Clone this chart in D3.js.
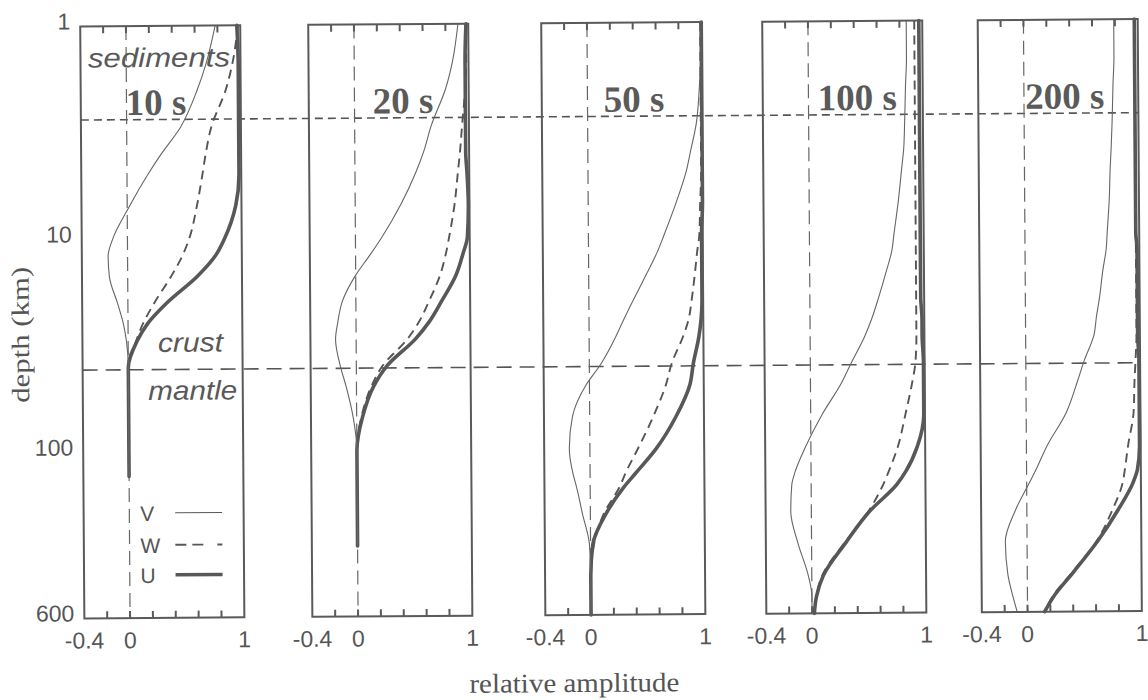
<!DOCTYPE html>
<html>
<head>
<meta charset="utf-8">
<script src="https://cdn.jsdelivr.net/npm/d3@7"></script>
<style>
  html, body { margin: 0; padding: 0; background: #ffffff; }
  svg { display: block; }
</style>
</head>
<body>
<svg id="chart" width="1148" height="700"></svg>
<script>
// ---------------- DATA ----------------
const periods = ["10 s", "20 s", "50 s", "100 s", "200 s"];
const depths = [1, 1.5, 2, 3, 4, 5, 7, 10, 12, 15, 20, 25, 30, 40, 50, 70, 100, 130, 150, 200, 280, 400, 500, 600];

// 10 s
const v10 = [0.78, 0.70, 0.62, 0.47, 0.30, 0.18, 0.02, -0.13, -0.17, -0.16, -0.09, -0.04, -0.015, 0, 0, 0, 0, 0, null, null, null, null, null, null];
const w10 = [0.98, 0.93, 0.87, 0.74, 0.69, 0.66, 0.61, 0.54, 0.48, 0.38, 0.23, 0.13, 0.07, 0, 0, 0, 0, 0, null, null, null, null, null, null];
const u10 = [0.97, 0.98, 0.98, 0.98, 0.98, 0.98, 0.95, 0.85, 0.77, 0.61, 0.34, 0.17, 0.08, 0, 0, 0, 0, 0, null, null, null, null, null, null];
// 20 s
const v20 = [0.91, 0.86, 0.80, 0.67, 0.60, 0.53, 0.40, 0.23, 0.13, 0.0, -0.12, -0.16, -0.18, -0.14, -0.09, -0.03, 0, 0, 0, 0, 0, null, null, null];
const w20 = [0.98, 0.98, 0.97, 0.94, 0.92, 0.90, 0.87, 0.82, 0.79, 0.74, 0.64, 0.55, 0.45, 0.23, 0.13, 0.04, 0, 0, 0, 0, 0, null, null, null];
const u20 = [0.98, 0.97, 0.97, 0.97, 0.97, 0.98, 0.99, 0.98, 0.94, 0.88, 0.75, 0.64, 0.52, 0.27, 0.15, 0.05, 0, 0, 0, 0, 0, null, null, null];
// 50 s
const v50 = [0.99, 0.99, 0.98, 0.95, 0.90, 0.86, 0.77, 0.66, 0.60, 0.51, 0.39, 0.30, 0.23, 0.10, -0.03, -0.15, -0.18, -0.15, -0.12, -0.07, -0.01, 0, 0, 0];
const w50 = [0.99, 0.99, 0.99, 0.99, 0.99, 0.99, 0.98, 0.97, 0.95, 0.93, 0.90, 0.87, 0.82, 0.72, 0.67, 0.56, 0.42, 0.31, 0.26, 0.12, 0.03, 0, 0, 0];
const u50 = [1.0, 1.0, 1.0, 1.0, 1.0, 1.0, 1.0, 0.99, 0.99, 0.99, 0.99, 0.98, 0.96, 0.91, 0.88, 0.76, 0.58, 0.40, 0.30, 0.14, 0.02, 0, 0, 0];
// 100 s
const v100 = [0.86, 0.86, 0.85, 0.84, 0.83, 0.81, 0.78, 0.74, 0.72, 0.67, 0.60, 0.54, 0.48, 0.36, 0.27, 0.10, -0.05, -0.14, -0.17, -0.18, -0.12, -0.03, 0, 0];
const w100 = [0.93, 0.93, 0.93, 0.93, 0.93, 0.93, 0.93, 0.93, 0.93, 0.93, 0.93, 0.93, 0.93, 0.92, 0.89, 0.83, 0.76, 0.68, 0.63, 0.50, 0.29, 0.09, 0.04, 0.02];
const u100 = [0.97, 0.97, 0.97, 0.97, 0.97, 0.97, 0.97, 0.97, 0.97, 0.97, 0.97, 0.98, 0.98, 0.99, 0.99, 0.99, 0.93, 0.83, 0.75, 0.51, 0.30, 0.10, 0.04, 0.02];
// 200 s
const v200 = [0.79, 0.79, 0.78, 0.77, 0.76, 0.75, 0.74, 0.72, 0.71, 0.68, 0.65, 0.62, 0.60, 0.51, 0.45, 0.35, 0.18, 0.08, 0.02, -0.10, -0.19, -0.17, -0.13, -0.09];
const w200 = [0.97, 0.97, 0.97, 0.97, 0.97, 0.97, 0.97, 0.97, 0.97, 0.97, 0.97, 0.97, 0.97, 0.96, 0.95, 0.94, 0.89, 0.86, 0.84, 0.75, 0.61, 0.38, 0.23, 0.15];
const u200 = [0.97, 0.97, 0.97, 0.97, 0.97, 0.97, 0.97, 0.97, 0.98, 0.98, 0.98, 0.98, 0.98, 0.99, 0.99, 0.99, 0.99, 0.97, 0.93, 0.80, 0.62, 0.39, 0.24, 0.15];

const seriesV = [v10, v20, v50, v100, v200];
const seriesW = [w10, w20, w50, w100, w200];
const seriesU = [u10, u20, u50, u100, u200];

const xMinorTicks = [-0.2, 0, 0.2, 0.4, 0.6, 0.8];
const xLabelTicks = [-0.4, 0, 1];
const xTickLabels = ["-0.4", "0", "1"];
const yTicks = [1, 10, 100, 600];
const boundaryDepths = [2.75, 41];
const legendLabels = ["V", "W", "U"];
const regionLabels = ["sediments", "crust", "mantle"];
const yAxisTitle = "depth  (km)";
const xAxisTitle = "relative amplitude";

// ---------------- LAYOUT ----------------
const panelLeft = [82.5, 310.5, 543.5, 764.5, 980];
const titleDx = [45, 64, 62, 55, 47];
const panelW = 160, plotTop = 23, plotBottom = 615;
const ink = "#5a5a5a", textInk = "#555555";

const svg = d3.select("#chart");
svg.append("rect").attr("width", 1148).attr("height", 700).attr("fill", "#ffffff");
const root = svg.append("g").attr("transform", "rotate(-0.4,574,350)");

const y = d3.scaleLog().domain([1, 600]).range([plotTop, plotBottom]);

// horizontal boundary lines (across all panels)
const lineEnd = panelLeft[4] + panelW;
root.append("line")
  .attr("x1", panelLeft[0]).attr("x2", lineEnd)
  .attr("y1", y(boundaryDepths[0])).attr("y2", y(boundaryDepths[0]))
  .attr("stroke", "#555").attr("stroke-width", 1.6).attr("stroke-dasharray", "8,5");
root.append("line")
  .attr("x1", panelLeft[0]).attr("x2", lineEnd)
  .attr("y1", y(boundaryDepths[1])).attr("y2", y(boundaryDepths[1]))
  .attr("stroke", "#555").attr("stroke-width", 1.6).attr("stroke-dasharray", "15,8");

periods.forEach((p, i) => {
  const g = root.append("g");
  const x = d3.scaleLinear().domain([-0.4, 1]).range([panelLeft[i], panelLeft[i] + panelW]);

  // zero line
  g.append("line")
    .attr("x1", x(0)).attr("x2", x(0)).attr("y1", plotTop).attr("y2", plotBottom)
    .attr("stroke", "#666").attr("stroke-width", 1.2).attr("stroke-dasharray", "14,7");

  // inward minor ticks, top and bottom
  [[plotTop, 7], [plotBottom, -7]].forEach(([y0, len]) => {
    g.selectAll(null).data(xMinorTicks).enter().append("line")
      .attr("x1", d => x(d)).attr("x2", d => x(d))
      .attr("y1", y0).attr("y2", y0 + len)
      .attr("stroke", ink).attr("stroke-width", 2);
  });

  // tick labels
  g.selectAll(null).data(xLabelTicks).enter().append("text")
    .attr("x", d => x(d)).attr("y", 645)
    .attr("text-anchor", "middle").attr("fill", textInk)
    .style("font-family", "'Liberation Sans', Arial, sans-serif").style("font-size", "23px")
    .text((d, k) => xTickLabels[k]);

  // curves
  const line = d3.line()
    .defined(d => d[1] !== null)
    .x(d => x(d[1])).y(d => y(d[0]))
    .curve(d3.curveMonotoneY);
  const pairs = arr => depths.map((d, k) => [d, arr[k]]);

  g.append("path").datum(pairs(seriesU[i])).attr("d", line)
    .attr("fill", "none").attr("stroke", "#585858").attr("stroke-width", 3.6)
    .attr("stroke-linecap", "round").attr("stroke-linejoin", "round");
  g.append("path").datum(pairs(seriesW[i])).attr("d", line)
    .attr("fill", "none").attr("stroke", "#555").attr("stroke-width", 1.9)
    .attr("stroke-dasharray", "9,6");
  g.append("path").datum(pairs(seriesV[i])).attr("d", line)
    .attr("fill", "none").attr("stroke", "#666").attr("stroke-width", 1.1);

  // frame
  g.append("rect")
    .attr("x", panelLeft[i]).attr("y", plotTop).attr("width", panelW).attr("height", plotBottom - plotTop)
    .attr("fill", "none").attr("stroke", ink).attr("stroke-width", 2);

  // title
  g.append("text")
    .attr("x", panelLeft[i] + titleDx[i]).attr("y", 112)
    .attr("fill", "#5a5a5a")
    .style("font-family", "'Liberation Serif', 'Times New Roman', serif")
    .style("font-weight", "bold").style("font-size", "37px")
    .text(p);

  // left axis only on first panel
  if (i === 0) {
    const axL = g.append("g").attr("transform", `translate(${panelLeft[0]},0)`)
      .call(d3.axisLeft(y).tickValues(yTicks).tickSize(0).tickPadding(10).tickFormat(d3.format("d")));
    axL.select(".domain").remove();
    axL.selectAll("text").attr("fill", textInk).attr("dy", "0.1em")
      .style("font-family", "'Liberation Sans', Arial, sans-serif").style("font-size", "23px");

    // region labels
    const italic = sel => sel.attr("fill", "#595959")
      .style("font-family", "'Liberation Sans', Arial, sans-serif")
      .style("font-style", "italic").style("font-size", "27px")
      .attr("lengthAdjust", "spacingAndGlyphs");
    g.append("text").attr("x", 90).attr("y", 64).attr("textLength", 142).text(regionLabels[0]).call(italic);
    g.append("text").attr("x", 158).attr("y", 349).attr("textLength", 65).text(regionLabels[1]).call(italic);
    g.append("text").attr("x", 148).attr("y", 397).attr("textLength", 89).text(regionLabels[2]).call(italic);

    // legend
    const legY = [510, 542, 572];
    const legStyle = [
      { w: 1.1, dash: null },
      { w: 1.9, dash: "11,6,11,14,3,0" },
      { w: 3.6, dash: null }
    ];
    legendLabels.forEach((lab, k) => {
      g.append("text").attr("x", 139).attr("y", legY[k] + 8).text(lab)
        .attr("fill", textInk)
        .style("font-family", "'Liberation Sans', Arial, sans-serif").style("font-size", "21px");
      const ln = g.append("line").attr("x1", 174).attr("x2", 221)
        .attr("y1", legY[k]).attr("y2", legY[k])
        .attr("stroke", "#585858").attr("stroke-width", legStyle[k].w);
      if (legStyle[k].dash) ln.attr("stroke-dasharray", legStyle[k].dash);
    });
  }
});

// axis titles
root.append("text")
  .attr("transform", "translate(29,331) rotate(-90)")
  .attr("text-anchor", "middle").attr("fill", textInk)
  .attr("textLength", 136).attr("lengthAdjust", "spacingAndGlyphs")
  .style("font-family", "'Liberation Serif', 'Times New Roman', serif").style("font-size", "25px")
  .text(yAxisTitle);
root.append("text")
  .attr("x", 572).attr("y", 692)
  .attr("text-anchor", "middle").attr("fill", textInk)
  .attr("textLength", 210).attr("lengthAdjust", "spacingAndGlyphs")
  .style("font-family", "'Liberation Serif', 'Times New Roman', serif").style("font-size", "27px")
  .text(xAxisTitle);
</script>
</body>
</html>
